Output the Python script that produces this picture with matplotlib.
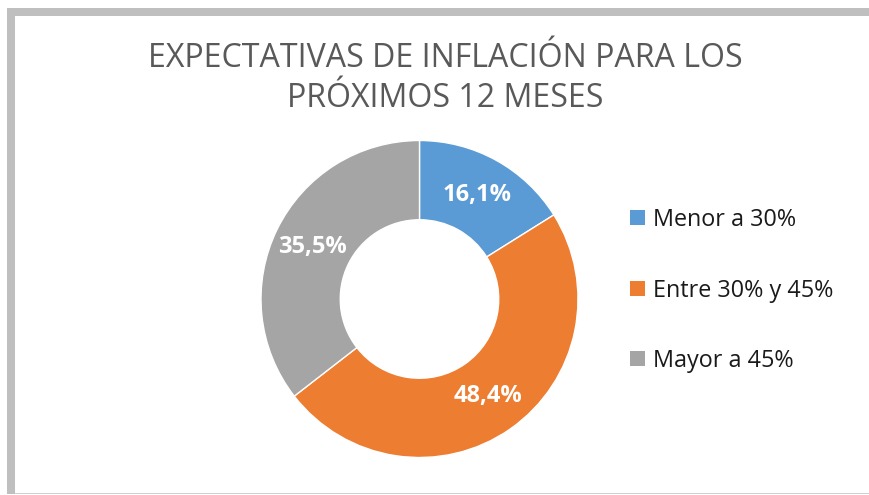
import matplotlib
matplotlib.use("Agg")
import matplotlib.pyplot as plt
from matplotlib.patches import Rectangle

categories = ["Menor a 30%", "Entre 30% y 45%", "Mayor a 45%"]
values = [16.1, 48.4, 35.5]
colors = ["#5B9BD5", "#ED7D31", "#A5A5A5"]
title_lines = ["EXPECTATIVAS DE INFLACIÓN PARA LOS", "PRÓXIMOS 12 MESES"]

W, H = 869, 495
FONT = "Open Sans"
plt.rcParams['font.family'] = [FONT, 'DejaVu Sans']

fig = plt.figure(figsize=(W / 100, H / 100), dpi=100)
fig.patch.set_facecolor("white")

ax = fig.add_axes([0, 0, 1, 1])
ax.set_xlim(0, W)
ax.set_ylim(0, H)
ax.set_aspect("equal")
ax.axis("off")

# Border (pixel coords, y from top)
def yp(y):
    return H - y

ax.add_patch(Rectangle((7, yp(494)), 8, 494 - 8, color="#BFBFBF", lw=0))
ax.add_patch(Rectangle((7, yp(16)), W - 7, 8, color="#BFBFBF", lw=0))
ax.add_patch(Rectangle((15, yp(494)), W - 15, 1.5, color="#D0D0D0", lw=0))

cx, cy, R = 419.5, yp(299), 158.5
wedges, texts, autotexts = ax.pie(
    values, colors=colors, startangle=90, counterclock=False,
    center=(cx, cy), radius=R,
    wedgeprops=dict(width=R * 0.5, edgecolor="white", linewidth=1),
    autopct=lambda p: f"{p:.1f}%".replace(".", ","), pctdistance=0.75,
    textprops=dict(color="white", fontsize=17, fontweight="bold"),
)
ax.set_xlim(0, W)
ax.set_ylim(0, H)

# Title
ax.text(445, yp(67), title_lines[0], ha="center", va="baseline",
        fontsize=23.1, color="#595959")
ax.text(445, yp(107), title_lines[1], ha="center", va="baseline",
        fontsize=23.1, color="#595959")

# Legend
leg_base = [226, 297, 367]
sq_top = [210, 281, 351]
for cat, col, yb, yt in zip(categories, colors, leg_base, sq_top):
    ax.add_patch(Rectangle((630, yp(yt + 15)), 15, 15, color=col, lw=0))
    ax.text(653, yp(yb), cat, ha="left", va="baseline", fontsize=16.8, color="#1A1A1A")

fig.savefig("out.png", dpi=100, facecolor="white")
